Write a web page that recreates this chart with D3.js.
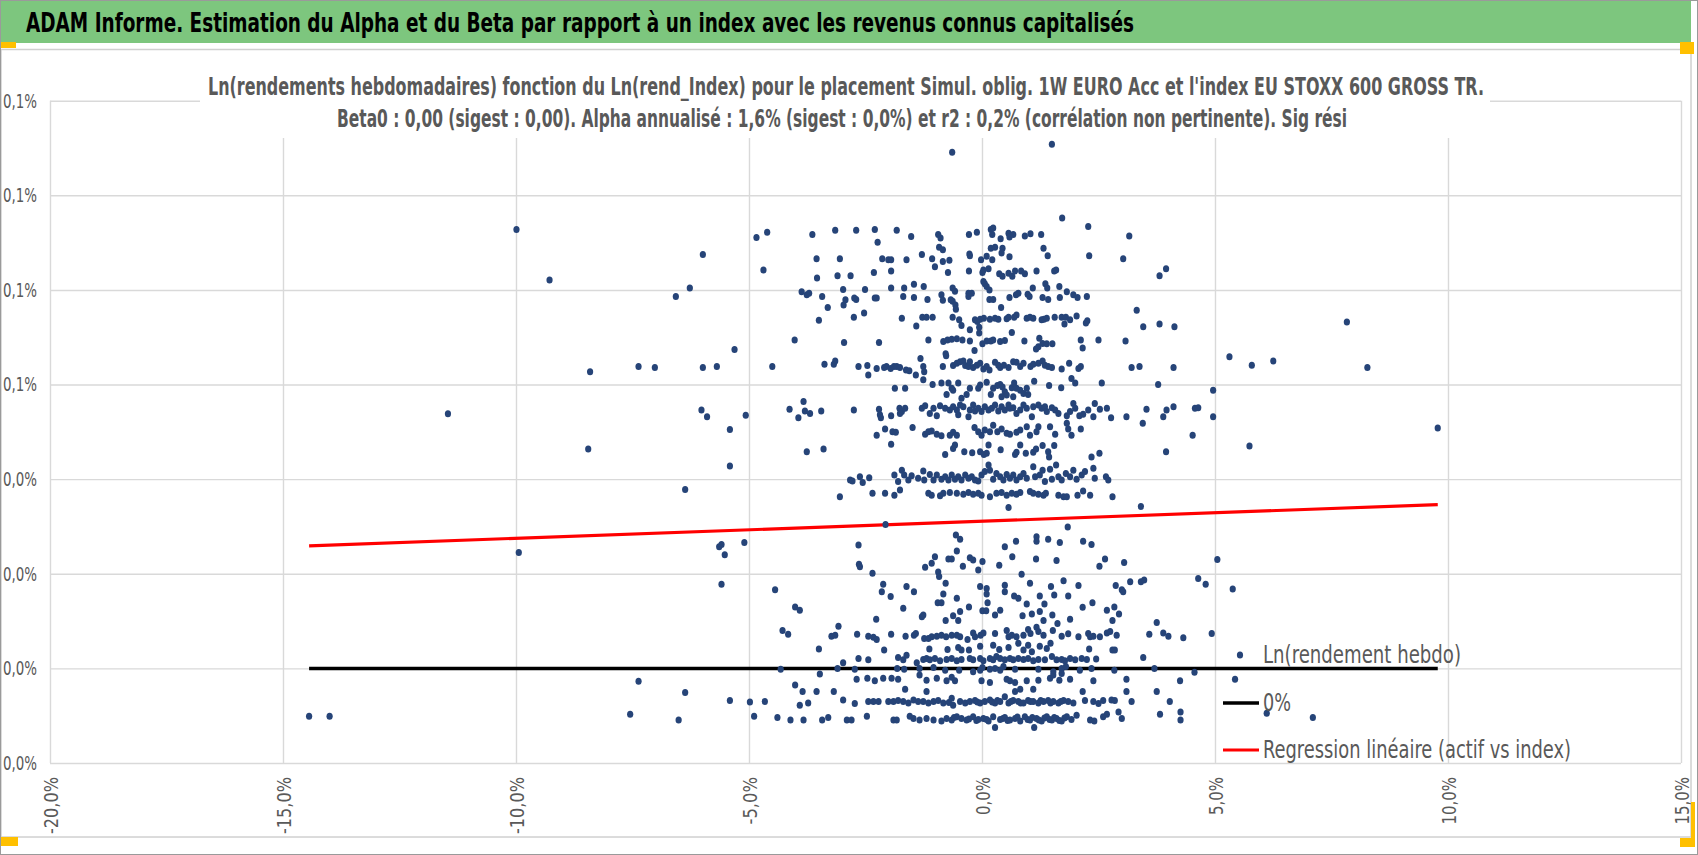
<!DOCTYPE html>
<html>
<head>
<meta charset="utf-8">
<script src="https://cdn.jsdelivr.net/npm/d3@7"></script>
<style>
  body { margin: 0; background: #fff; }
  svg { display: block; }
  text { font-family: "Liberation Sans Narrow", "DejaVu Sans Condensed", sans-serif; }
</style>
</head>
<body>
<svg id="chart" width="1698" height="855"></svg>
<script>
// weekly log returns (%) of the fund vs index (%), grouped by band
var bandTop = [
  [-0.64,0.1091],[1.50,0.1108],[1.72,0.0952],[2.28,0.0934],[3.16,0.0914],
  [-4.61,0.0922],[-3.64,0.0917],[-3.15,0.0926],[-2.70,0.0926],[-2.30,0.0928],[-1.83,0.0926],[-1.52,0.0913],
  [-0.94,0.0917],[-0.89,0.0910],[-0.28,0.0917],[-0.11,0.0922],[0.19,0.0928],[0.24,0.0931],[0.22,0.0917],
  [0.40,0.0908],[0.57,0.0920],[0.59,0.0912],[0.67,0.0917],[0.92,0.0914],[1.04,0.0919],[1.27,0.0917],[-2.24,0.0901],
  [-3.55,0.0866],[-3.05,0.0866],[-2.14,0.0866],[-2.01,0.0864],[-1.95,0.0864],[-1.62,0.0864],[-1.29,0.0875],
  [-1.07,0.0866],[-0.84,0.0860],[-0.70,0.0863],[-0.27,0.0876],[-0.26,0.0872],[-0.02,0.0864],[0.10,0.0871],
  [0.22,0.0864],[0.19,0.0888],[0.28,0.0890],[0.44,0.0888],[0.42,0.0878],[0.59,0.0870],[1.32,0.0888],[1.41,0.0872],
  [2.30,0.0872],[3.03,0.0866],[-0.92,0.0890],[-0.84,0.0885],
  [-4.69,0.0842],[-3.10,0.0830],[-2.82,0.0830],[-3.54,0.0825],[-2.32,0.0837],[-1.95,0.0840],[-1.01,0.0849],
  [-0.73,0.0837],[-0.28,0.0840],[0.01,0.0837],[0.03,0.0842],[0.14,0.0845],[0.37,0.0834],[0.44,0.0829],[0.57,0.0835],
  [0.65,0.0829],[0.71,0.0840],[0.84,0.0840],[0.92,0.0834],[1.17,0.0840],[1.55,0.0840],[1.59,0.0842],[3.81,0.0830],[3.95,0.0845]
];

var bandHigh = [
  [-3.87,0.0796],[-3.76,0.0790],[-3.71,0.0793],[-3.43,0.0786],[-2.98,0.0801],[-2.93,0.0779],[-2.70,0.0780],[-2.74,0.0783],
  [-2.51,0.0801],[-2.30,0.0783],[-2.26,0.0783],[-1.95,0.0804],[-1.69,0.0786],[-1.67,0.0804],[-1.46,0.0812],[-1.46,0.0784],
  [-1.25,0.0807],[-1.17,0.0780],[-0.87,0.0790],[-0.84,0.0778],[-0.63,0.0804],[-0.58,0.0797],[-0.63,0.0776],[-0.67,0.0779],
  [-0.29,0.0793],[-0.29,0.0786],[-0.22,0.0793],[0.03,0.0818],[0.06,0.0813],[0.10,0.0807],[0.16,0.0800],[0.16,0.0780],
  [0.24,0.0780],[0.59,0.0784],[0.73,0.0790],[0.78,0.0793],[0.98,0.0791],[1.02,0.0786],[1.09,0.0804],[1.30,0.0784],
  [1.36,0.0813],[1.40,0.0804],[1.42,0.0780],[1.66,0.0807],[1.67,0.0784],[1.82,0.0796],[1.96,0.0790],[2.05,0.0784],[2.25,0.0786],
  [-3.31,0.0763],[-2.97,0.0768],[-3.50,0.0736],[-2.75,0.0742],[-2.53,0.0751],[-0.57,0.0768],[-0.56,0.0759],[0.41,0.0763],
  [-1.72,0.0740],[-1.41,0.0724],[-1.28,0.0742],[-1.19,0.0742],[-1.06,0.0742],[-0.63,0.0742],[-0.49,0.0737],[-0.44,0.0725],
  [-0.15,0.0737],[-0.10,0.0733],[-0.04,0.0738],[0.04,0.0740],[0.17,0.0738],[0.28,0.0740],[0.35,0.0738],[0.53,0.0739],
  [0.57,0.0742],[0.69,0.0742],[0.74,0.0747],[0.96,0.0740],[1.03,0.0742],[1.10,0.0740],[1.28,0.0737],[1.33,0.0738],
  [1.39,0.0740],[1.56,0.0742],[1.71,0.0742],[1.77,0.0728],[1.80,0.0742],[1.89,0.0737],[2.03,0.0745],[2.23,0.0730],
  [2.26,0.0735],[3.32,0.0757],[3.46,0.0722],[3.81,0.0728],[4.13,0.0722],[-0.06,0.0721],[-0.26,0.0716],
  [-4.02,0.0694],[-2.96,0.0689],[-2.21,0.0689],[-1.15,0.0694],[-0.83,0.0691],[-0.74,0.0694],[-0.65,0.0696],[-0.54,0.0697],
  [-0.42,0.0694],[-0.26,0.0692],[-0.16,0.0672],[-0.06,0.0709],[0.01,0.0686],[0.10,0.0692],[0.19,0.0692],[0.24,0.0694],
  [0.39,0.0691],[0.49,0.0693],[0.64,0.0710],[0.91,0.0692],[1.16,0.0675],[1.21,0.0680],[1.23,0.0698],[1.30,0.0687],
  [1.39,0.0686],[1.51,0.0686],[2.12,0.0694],[2.16,0.0677],[2.50,0.0694],[3.08,0.0692],[-0.78,0.0665]
];

var bandMidHigh = [
  [-4.50,0.0638],[-3.38,0.0643],[-3.18,0.0643],[-3.15,0.0650],[-2.65,0.0638],[-2.46,0.0640],[-2.44,0.0620],[-2.26,0.0634],
  [-2.10,0.0636],[-2.05,0.0638],[-1.96,0.0634],[-1.89,0.0638],[-1.83,0.0638],[-1.76,0.0636],[-1.63,0.0631],[-1.56,0.0629],
  [-1.42,0.0620],[-1.32,0.0655],[-1.26,0.0638],[-1.24,0.0627],[-1.26,0.0610],[-0.84,0.0638],[-0.77,0.0661],[-0.62,0.0640],
  [-0.54,0.0645],[-0.47,0.0648],[-0.40,0.0650],[-0.36,0.0640],[-0.29,0.0638],[-0.26,0.0648],[-0.19,0.0636],[-0.11,0.0641],
  [-0.04,0.0645],[0.03,0.0633],[0.10,0.0638],[0.16,0.0631],[0.28,0.0647],[0.35,0.0641],[0.39,0.0636],[0.47,0.0641],
  [0.57,0.0636],[0.67,0.0648],[0.74,0.0647],[0.82,0.0638],[0.89,0.0645],[1.04,0.0638],[1.10,0.0643],[1.21,0.0645],
  [1.30,0.0650],[1.35,0.0641],[1.42,0.0638],[1.50,0.0636],[1.71,0.0633],[1.87,0.0645],[1.92,0.0613],[2.00,0.0603],
  [2.07,0.0634],[2.12,0.0638],[2.57,0.0603],[3.21,0.0636],[3.38,0.0638],[3.78,0.0600],[4.11,0.0636],
  [-1.87,0.0592],[-1.65,0.0592],[-1.06,0.0600],[-0.87,0.0603],[-0.72,0.0603],[-0.65,0.0592],[-0.62,0.0588],[-0.51,0.0603],
  [-0.76,0.0579],[-0.44,0.0571],[-0.26,0.0592],[-0.08,0.0592],[-0.04,0.0599],[-0.33,0.0579],[0.10,0.0605],[0.19,0.0579],
  [0.24,0.0592],[0.33,0.0598],[0.39,0.0600],[0.44,0.0595],[0.49,0.0585],[0.53,0.0578],[0.64,0.0593],[0.69,0.0603],
  [0.74,0.0592],[0.82,0.0588],[0.89,0.0581],[0.96,0.0592],[0.99,0.0579],[0.67,0.0574],[0.42,0.0574],[1.12,0.0607],
  [1.44,0.0598],[1.70,0.0593]
];

var bandMid = [
  [-4.13,0.0548],[-3.94,0.0530],[-3.83,0.0564],[-3.80,0.0544],[-3.69,0.0539],[-3.45,0.0544],[-2.75,0.0546],[-2.21,0.0548],
  [-2.19,0.0536],[-2.17,0.0530],[-1.95,0.0534],[-1.77,0.0550],[-1.72,0.0543],[-1.65,0.0550],[-1.76,0.0539],[-1.29,0.0550],
  [-1.22,0.0555],[-1.12,0.0539],[-1.04,0.0550],[-0.97,0.0534],[-0.90,0.0555],[-0.79,0.0550],[-0.69,0.0546],[-0.62,0.0553],
  [-0.54,0.0546],[-0.47,0.0557],[-0.51,0.0536],[-0.40,0.0553],[-0.29,0.0532],[-0.26,0.0546],[-0.19,0.0557],[-0.15,0.0544],
  [-0.08,0.0550],[-0.01,0.0543],[0.06,0.0553],[0.14,0.0546],[0.21,0.0550],[0.28,0.0557],[0.35,0.0544],[0.42,0.0553],
  [0.49,0.0546],[0.57,0.0557],[0.60,0.0550],[0.67,0.0551],[0.74,0.0539],[0.82,0.0546],[0.89,0.0557],[0.96,0.0550],
  [1.07,0.0532],[1.10,0.0553],[1.21,0.0557],[1.28,0.0550],[1.35,0.0553],[1.39,0.0543],[1.50,0.0551],[1.57,0.0546],
  [1.64,0.0539],[1.82,0.0534],[1.89,0.0543],[1.96,0.0560],[2.00,0.0550],[2.09,0.0534],[2.17,0.0537],[2.28,0.0546],
  [2.39,0.0532],[2.42,0.0560],[2.53,0.0548],[2.68,0.0550],[2.77,0.0530],[3.10,0.0532],[3.45,0.0518],[3.53,0.0548],
  [3.89,0.0532],[3.96,0.0546],[4.11,0.0553],[4.52,0.0493],[4.57,0.0550],[4.64,0.0551],
  [-2.26,0.0493],[-2.08,0.0506],[-1.92,0.0500],[-1.85,0.0499],[-1.49,0.0509],[-1.22,0.0495],[-1.15,0.0500],[-1.08,0.0502],
  [-0.97,0.0495],[-0.87,0.0492],[-0.69,0.0493],[-0.62,0.0499],[-0.54,0.0493],[-0.16,0.0509],[-0.08,0.0500],[-0.01,0.0493],
  [0.06,0.0504],[0.17,0.0500],[0.24,0.0514],[0.33,0.0500],[0.42,0.0506],[0.53,0.0497],[0.60,0.0495],[0.74,0.0499],
  [0.82,0.0504],[0.96,0.0511],[1.03,0.0493],[1.17,0.0500],[1.21,0.0511],[1.46,0.0511],[1.57,0.0495],[1.82,0.0518],
  [1.85,0.0506],[1.92,0.0493],[2.12,0.0506],
  [-3.76,0.0458],[-3.40,0.0464],[-1.95,0.0474],[-0.79,0.0452],[-0.58,0.0472],[-0.62,0.0465],[-0.38,0.0458],[-0.21,0.0456],
  [-0.04,0.0458],[0.04,0.0452],[0.14,0.0472],[0.10,0.0455],[0.40,0.0462],[0.71,0.0452],[0.74,0.0457],[0.82,0.0472],
  [0.94,0.0455],[1.10,0.0457],[1.16,0.0464],[1.30,0.0471],[1.42,0.0458],[1.44,0.0447],[1.55,0.0471],[2.35,0.0447],
  [2.52,0.0455],[3.95,0.0458]
];

var bandMidLow = [
  [-2.83,0.0398],[-2.78,0.0396],[-2.62,0.0405],[-2.56,0.0393],[-2.42,0.0403],[-1.88,0.0409],[-1.80,0.0395],[-1.72,0.0419],
  [-1.67,0.0409],[-1.58,0.0398],[-1.51,0.0407],[-1.37,0.0402],[-1.26,0.0417],[-1.24,0.0398],[-1.12,0.0410],[-1.04,0.0398],
  [-0.97,0.0409],[-0.87,0.0400],[-0.79,0.0405],[-0.72,0.0398],[-0.65,0.0409],[-0.58,0.0400],[-0.51,0.0405],[-0.44,0.0398],
  [-0.36,0.0409],[-0.29,0.0402],[-0.22,0.0405],[-0.15,0.0398],[-0.08,0.0396],[-0.01,0.0409],[0.06,0.0416],[0.14,0.0430],
  [0.17,0.0419],[0.24,0.0400],[0.31,0.0412],[0.39,0.0405],[0.46,0.0398],[0.53,0.0410],[0.60,0.0402],[0.67,0.0409],
  [0.74,0.0398],[0.82,0.0405],[0.89,0.0412],[0.96,0.0402],[1.10,0.0426],[1.14,0.0405],[1.24,0.0409],[1.30,0.0419],
  [1.35,0.0395],[1.46,0.0421],[1.50,0.0400],[1.59,0.0430],[1.64,0.0405],[1.71,0.0398],[1.80,0.0412],[1.89,0.0405],
  [1.96,0.0419],[2.03,0.0400],[2.14,0.0409],[2.21,0.0416],[2.39,0.0423],[2.42,0.0402],[2.66,0.0405],[2.71,0.0398],
  [-3.05,0.0363],[-2.35,0.0370],[-2.08,0.0370],[-1.88,0.0366],[-1.76,0.0377],[-1.15,0.0370],[-1.08,0.0366],[-0.90,0.0365],
  [-0.83,0.0370],[-0.69,0.0372],[-0.54,0.0370],[-0.40,0.0368],[-0.29,0.0372],[-0.19,0.0368],[-0.08,0.0370],[-0.01,0.0366],
  [0.17,0.0363],[0.31,0.0370],[0.42,0.0372],[0.53,0.0366],[0.64,0.0370],[0.74,0.0368],[0.82,0.0372],[1.03,0.0374],
  [1.10,0.0370],[1.21,0.0368],[1.32,0.0366],[1.37,0.0370],[1.64,0.0366],[1.75,0.0363],[1.82,0.0363],[2.05,0.0366],
  [2.17,0.0375],[2.32,0.0366],[2.80,0.0363],[0.57,0.0340],[3.41,0.0342]
];

var bandLow = [
  [-2.07,0.0304],[1.84,0.0299],[-0.56,0.0282],[-0.47,0.0273],[1.17,0.0278],[1.17,0.0269],[1.42,0.0273],[1.67,0.0266],
  [2.17,0.0269],[2.35,0.0262],[0.73,0.0269],[0.49,0.0257],[-2.65,0.0261],[-2.64,0.0220],[-2.62,0.0215],[-2.35,0.0201],
  [-1.22,0.0214],[-1.08,0.0222],[-1.01,0.0236],[-0.94,0.0204],[-0.92,0.0194],[-0.72,0.0231],[-0.65,0.0231],[-0.54,0.0248],
  [-0.41,0.0216],[-0.26,0.0234],[-0.19,0.0229],[-0.08,0.0208],[0.01,0.0226],[0.37,0.0218],[0.65,0.0236],[0.85,0.0199],
  [1.16,0.0231],[1.60,0.0228],[2.52,0.0216],[2.64,0.0231],[3.05,0.0224],
  [-4.44,0.0166],[-2.12,0.0178],[-1.62,0.0173],[-0.78,0.0180],[-0.04,0.0173],[0.10,0.0169],[0.49,0.0176],[1.03,0.0180],
  [1.48,0.0173],[1.75,0.0185],[2.07,0.0175],[2.87,0.0175],[3.00,0.0166],[3.18,0.0183],[3.41,0.0183],[3.48,0.0187],[4.64,0.0190],
  [-2.15,0.0162],[-1.96,0.0152],[-1.46,0.0162],[-0.83,0.0157],[-0.54,0.0148],[0.10,0.0157],[0.12,0.0139],[0.49,0.0162],
  [0.69,0.0153],[0.78,0.0148],[0.96,0.0136],[1.24,0.0153],[1.34,0.0136],[1.55,0.0155],[1.85,0.0153],[2.16,0.0129],
  [2.37,0.0139],[2.68,0.0123],[2.84,0.0130],[3.03,0.0162],[-4.01,0.0130],[-3.91,0.0123],[-1.69,0.0127],[-0.95,0.0139],[-0.87,0.0139],
  [-1.29,0.0109],[-1.26,0.0113],[-0.62,0.0111],[-0.78,0.0101],[-0.51,0.0101],[-0.47,0.0120],[-0.28,0.0130],[0.01,0.0122],
  [0.09,0.0122],[0.28,0.0113],[0.39,0.0123],[0.87,0.0111],[1.07,0.0115],[1.24,0.0120],[1.32,0.0101],[1.51,0.0113],
  [1.62,0.0095],[1.89,0.0104],[2.80,0.0101],[2.94,0.0115],[3.75,0.0097],[-3.08,0.0089],[-2.27,0.0104]
];

var bandZero = [
  [-4.28,0.0080],[-4.16,0.0072],[-3.23,0.0068],[-3.15,0.0070],[-2.68,0.0072],[-2.44,0.0068],[-2.33,0.0066],[-2.26,0.0061],
  [-1.95,0.0072],[-1.64,0.0068],[-1.46,0.0070],[-1.42,0.0074],[-1.24,0.0063],[-1.15,0.0063],[-1.08,0.0067],[-0.97,0.0068],
  [-0.87,0.0070],[-0.77,0.0067],[-0.65,0.0070],[-0.54,0.0070],[-0.47,0.0067],[-0.31,0.0061],[-0.19,0.0075],[-0.15,0.0067],
  [-0.03,0.0070],[0.03,0.0075],[0.28,0.0074],[0.53,0.0080],[0.57,0.0067],[0.64,0.0070],[0.74,0.0067],[0.89,0.0070],
  [0.99,0.0082],[1.04,0.0074],[1.17,0.0087],[1.21,0.0078],[1.32,0.0070],[1.52,0.0080],[1.71,0.0068],[1.85,0.0073],
  [2.07,0.0067],[2.28,0.0074],[2.32,0.0067],[2.39,0.0068],[2.53,0.0067],[2.68,0.0075],[2.75,0.0078],[2.89,0.0070],
  [3.59,0.0072],[3.89,0.0075],[4.00,0.0068],[4.32,0.0065],
  [-3.50,0.0041],[-2.10,0.0039],[-1.13,0.0041],[-0.74,0.0040],[-0.51,0.0044],[-0.44,0.0039],[-0.28,0.0039],[-0.04,0.0047],
  [0.24,0.0049],[0.37,0.0040],[0.57,0.0044],[0.78,0.0053],[0.89,0.0039],[0.99,0.0049],[1.07,0.0035],[1.24,0.0047],
  [1.39,0.0042],[1.47,0.0053],[2.30,0.0041],[2.80,0.0039],[2.85,0.0039],[3.46,0.0023],
  [-2.98,0.0012],[-2.65,0.0021],[-2.44,0.0018],[-1.80,0.0023],[-1.69,0.0018],[-1.62,0.0028],[-1.40,0.0012],[-1.26,0.0019],
  [-1.19,0.0021],[-1.12,0.0018],[-1.01,0.0021],[-0.90,0.0016],[-0.76,0.0019],[-0.65,0.0021],[-0.54,0.0016],[-0.44,0.0019],
  [-0.26,0.0021],[-0.19,0.0018],[-0.04,0.0021],[0.03,0.0016],[0.17,0.0021],[0.24,0.0018],[0.31,0.0025],[0.39,0.0021],
  [0.49,0.0018],[0.60,0.0021],[0.67,0.0018],[0.78,0.0021],[0.89,0.0019],[0.99,0.0021],[1.10,0.0016],[1.21,0.0019],
  [1.35,0.0018],[1.50,0.0025],[1.60,0.0018],[1.71,0.0019],[1.78,0.0016],[1.89,0.0021],[2.00,0.0018],[2.14,0.0021],
  [2.25,0.0019],[2.45,0.0020],
  [-4.32,-0.0002],[-3.48,-0.0012],[-3.10,0.0000],[-2.73,-0.0002],[-1.82,0.0000],[-1.67,-0.0002],[-1.34,0.0000],[-1.04,0.0002],
  [-0.79,-0.0004],[-0.49,-0.0004],[-0.19,-0.0007],[-0.04,-0.0004],[0.01,0.0002],[0.17,-0.0002],[0.28,0.0000],[0.39,-0.0004],
  [0.46,0.0004],[0.71,-0.0002],[1.21,-0.0002],[1.53,-0.0007],[1.71,0.0000],[1.80,0.0004],[2.10,-0.0004],[2.35,0.0000],
  [2.84,-0.0004],[3.70,0.0000],[4.56,-0.0008]
];

var bandBottom = [
  [-2.69,-0.0023],[-2.46,-0.0021],[-2.30,-0.0026],[-2.12,-0.0021],[-1.94,-0.0021],[-1.80,-0.0023],[-1.34,-0.0014],[-1.19,-0.0025],
  [-0.97,-0.0021],[-0.76,-0.0026],[-0.65,-0.0019],[-0.58,-0.0026],[-0.01,-0.0026],[0.17,-0.0030],[0.53,-0.0023],[0.60,-0.0026],
  [0.71,-0.0030],[0.96,-0.0026],[1.21,-0.0025],[1.46,-0.0021],[1.53,-0.0014],[1.66,-0.0025],[1.71,-0.0011],[1.89,-0.0023],
  [2.39,-0.0026],[3.10,-0.0023],[4.25,-0.0026],
  [-4.01,-0.0035],[-3.85,-0.0049],[-3.55,-0.0049],[-3.18,-0.0049],[-1.65,-0.0044],[-1.19,-0.0049],[0.71,-0.0049],[0.82,-0.0044],
  [1.10,-0.0044],[2.16,-0.0049],[3.10,-0.0049],[3.75,-0.0049],
  [-4.66,-0.0070],[-3.91,-0.0078],[-3.73,-0.0073],[-2.98,-0.0067],[-2.73,-0.0074],[-2.44,-0.0070],[-2.33,-0.0070],[-2.22,-0.0070],
  [-2.01,-0.0070],[-1.90,-0.0070],[-1.80,-0.0068],[-1.69,-0.0070],[-1.58,-0.0073],[-1.47,-0.0067],[-1.37,-0.0070],[-1.26,-0.0070],
  [-1.15,-0.0073],[-1.04,-0.0070],[-0.94,-0.0068],[-0.83,-0.0073],[-0.71,-0.0072],[-0.65,-0.0063],[-0.62,-0.0078],[-0.47,-0.0070],
  [-0.36,-0.0073],[-0.26,-0.0070],[-0.15,-0.0068],[-0.10,-0.0071],[-0.04,-0.0073],[0.06,-0.0070],[0.17,-0.0067],[0.22,-0.0071],
  [0.28,-0.0073],[0.33,-0.0068],[0.39,-0.0070],[0.49,-0.0060],[0.57,-0.0073],[0.62,-0.0070],[0.67,-0.0068],[0.78,-0.0070],
  [0.83,-0.0073],[0.89,-0.0073],[0.99,-0.0068],[1.04,-0.0070],[1.10,-0.0070],[1.21,-0.0073],[1.26,-0.0068],[1.32,-0.0070],
  [1.42,-0.0068],[1.47,-0.0073],[1.53,-0.0070],[1.64,-0.0073],[1.69,-0.0070],[1.75,-0.0068],[1.85,-0.0070],[1.96,-0.0073],
  [2.21,-0.0068],[2.39,-0.0070],[2.50,-0.0074],[2.60,-0.0068],[2.78,-0.0067],[2.85,-0.0068],[3.21,-0.0070],[4.03,-0.0070],
  [-4.39,-0.0104],[-4.11,-0.0109],[-3.83,-0.0109],[-3.43,-0.0109],[-3.30,-0.0104],[-2.90,-0.0109],[-2.80,-0.0109],[-2.47,-0.0101],
  [-1.90,-0.0109],[-1.83,-0.0109],[-1.55,-0.0101],[-1.47,-0.0106],[-1.34,-0.0109],[-1.19,-0.0106],[-1.04,-0.0109],[-0.87,-0.0111],
  [-0.76,-0.0106],[-0.65,-0.0109],[-0.60,-0.0104],[-0.54,-0.0102],[-0.44,-0.0106],[-0.33,-0.0109],[-0.28,-0.0107],[-0.19,-0.0102],
  [-0.12,-0.0110],[-0.08,-0.0108],[0.03,-0.0106],[0.10,-0.0108],[0.14,-0.0111],[0.24,-0.0102],[0.28,-0.0125],[0.39,-0.0108],
  [0.45,-0.0106],[0.49,-0.0104],[0.55,-0.0110],[0.60,-0.0109],[0.71,-0.0106],[0.76,-0.0103],[0.82,-0.0111],[0.92,-0.0102],
  [0.98,-0.0108],[1.03,-0.0109],[1.08,-0.0104],[1.12,-0.0125],[1.17,-0.0106],[1.22,-0.0109],[1.28,-0.0111],[1.34,-0.0105],
  [1.39,-0.0102],[1.45,-0.0108],[1.50,-0.0109],[1.55,-0.0104],[1.60,-0.0106],[1.66,-0.0110],[1.71,-0.0111],[1.77,-0.0105],
  [1.82,-0.0102],[1.92,-0.0108],[2.03,-0.0099],[2.32,-0.0109],[2.41,-0.0111],[2.60,-0.0102],[2.68,-0.0097],[2.93,-0.0092],
  [3.00,-0.0106],[3.82,-0.0097],[4.26,-0.0109],[4.26,-0.0092]
];

var outerLeft = [
  [-9.99,0.0928],[-9.28,0.0821],[-5.99,0.0875],[-4.84,0.0911],[-6.27,0.0804],[-6.57,0.0786],[-5.31,0.0674],[-8.41,0.0627],
  [-7.37,0.0638],[-7.02,0.0636],[-5.99,0.0636],[-5.69,0.0638],[-11.46,0.0538],[-6.02,0.0546],[-5.90,0.0532],[-5.07,0.0535],
  [-5.41,0.0505],[-8.45,0.0464],[-5.41,0.0428],[-6.37,0.0378],[-9.94,0.0245],[-5.64,0.0257],[-5.59,0.0262],[-5.52,0.0240],
  [-5.10,0.0266],[-5.59,0.0178],[-7.37,-0.0027],[-6.37,-0.0051],[-5.41,-0.0068],[-4.98,-0.0071],[-14.44,-0.0101],
  [-14.00,-0.0101],[-7.55,-0.0097],[-6.51,-0.0109],[-4.89,-0.0101]
];

var outerRight = [
  [7.83,0.0732],[5.31,0.0659],[5.79,0.0641],[6.25,0.0650],[8.27,0.0636],[4.96,0.0588],[4.96,0.0532],[5.74,0.0470],
  [9.78,0.0508],[5.05,0.0230],[4.80,0.0178],[5.38,0.0168],[4.93,0.0074],[5.43,-0.0023],[6.11,-0.0095],[7.10,-0.0104]
];

// regression (y in %, x in %)
var regIntercept = 0.0311;
var regSlope = 0.00036;

var xTicks = [-20, -15, -10, -5, 0, 5, 10, 15];
var xTickLabels = ["-20,0%", "-15,0%", "-10,0%", "-5,0%", "0,0%", "5,0%", "10,0%", "15,0%"];
var yTicks = [-0.02, 0, 0.02, 0.04, 0.06, 0.08, 0.10, 0.12];
var yTickLabels = ["0,0%", "0,0%", "0,0%", "0,0%", "0,1%", "0,1%", "0,1%", "0,1%"];

var legendLabels = ["Ln(rendement hebdo)", "0%", "Regression linéaire (actif vs index)"];
var legendWidths = [198, 28, 308];

var pageTitle = "ADAM Informe. Estimation du Alpha et du Beta par rapport à un index avec les revenus connus capitalisés";
var subTitle1 = "Ln(rendements hebdomadaires) fonction du Ln(rend_Index) pour le placement Simul. oblig. 1W EURO Acc et l'index EU STOXX 600 GROSS TR.";
var subTitle2 = "Beta0 : 0,00 (sigest : 0,00). Alpha annualisé : 1,6% (sigest : 0,0%) et r2 : 0,2% (corrélation non pertinente). Sig rési";

var points = [].concat(bandTop, bandHigh, bandMidHigh, bandMid, bandMidLow, bandLow, bandZero, bandBottom, outerLeft, outerRight);

var svg = d3.select("#chart");
var W = 1698, H = 855;
var plotLeft = 50, plotRight = 1681, plotTop = 100.7, plotBottom = 763;
var fontStack = "\"Liberation Sans Narrow\", \"DejaVu Sans Condensed\", sans-serif";

svg.append("rect").attr("width", W).attr("height", H).attr("fill", "#fff");

// title band
svg.append("rect").attr("x", 1).attr("y", 1).attr("width", 1690).attr("height", 42).attr("fill", "#7dc67e");
svg.append("text").attr("x", 26).attr("y", 32)
  .attr("font-size", 27).attr("font-weight", "bold").attr("fill", "#000")
  .attr("textLength", 1108).attr("lengthAdjust", "spacingAndGlyphs")
  .text(pageTitle);

// chart area frame
svg.append("rect").attr("x", 1).attr("y", 49.5).attr("width", 1690).attr("height", 787.5)
  .attr("fill", "none").attr("stroke", "#d0d0d0").attr("stroke-width", 1.5);
svg.append("rect").attr("x", 0.5).attr("y", 0.5).attr("width", W - 1).attr("height", H - 1)
  .attr("fill", "none").attr("stroke", "#9a9a9a").attr("stroke-width", 1);

var x = d3.scaleLinear().domain([-20, 15]).range([plotLeft, plotRight]);
var y = d3.scaleLinear().domain([-0.02, 0.12]).range([plotBottom, plotTop]);

// gridlines + labels
var gx = svg.append("g").attr("transform", "translate(0," + plotBottom + ")")
  .call(d3.axisBottom(x).tickValues(xTicks).tickSize(-(plotBottom - plotTop))
    .tickFormat(function(d, i) { return xTickLabels[i]; }));
gx.select(".domain").remove();
gx.selectAll("line").attr("stroke", "#d9d9d9").attr("stroke-width", 1.4);
gx.selectAll("text")
  .attr("transform", "rotate(-90)")
  .attr("text-anchor", "end")
  .attr("x", -14).attr("y", 7).attr("dy", 0)
  .attr("font-size", 20).attr("fill", "#595959")
  .attr("textLength", function(d, i) { return xTickLabels[i].length * 9.5; })
  .attr("lengthAdjust", "spacingAndGlyphs")
  .style("font-family", fontStack);

var gy = svg.append("g").attr("transform", "translate(" + plotLeft + ",0)")
  .call(d3.axisLeft(y).tickValues(yTicks).tickSize(-(plotRight - plotLeft)).tickPadding(13)
    .tickFormat(function(d, i) { return yTickLabels[i]; }));
gy.select(".domain").remove();
gy.selectAll("line").attr("stroke", "#d9d9d9").attr("stroke-width", 1.4);
gy.selectAll("text").attr("font-size", 20).attr("fill", "#595959")
  .attr("textLength", 34).attr("lengthAdjust", "spacingAndGlyphs")
  .style("font-family", fontStack);

// subtitle box hides the grid behind it
svg.append("rect").attr("x", 200).attr("y", 62).attr("width", 1290).attr("height", 76).attr("fill", "#fff");
svg.append("text").attr("x", 846).attr("y", 95).attr("text-anchor", "middle")
  .attr("font-size", 24).attr("font-weight", "bold").attr("fill", "#595959")
  .attr("textLength", 1276).attr("lengthAdjust", "spacingAndGlyphs")
  .text(subTitle1);
svg.append("text").attr("x", 842).attr("y", 127).attr("text-anchor", "middle")
  .attr("font-size", 24).attr("font-weight", "bold").attr("fill", "#595959")
  .attr("textLength", 1010).attr("lengthAdjust", "spacingAndGlyphs")
  .text(subTitle2);

// 0% line and regression over the index range
var xr = d3.extent(points, function(d) { return d[0]; });
var line = d3.line().x(function(d) { return x(d[0]); }).y(function(d) { return y(d[1]); });

svg.append("path")
  .attr("d", line(xr.map(function(v) { return [v, 0]; })))
  .attr("stroke", "#000").attr("stroke-width", 3.5).attr("fill", "none");
svg.append("path")
  .attr("d", line(xr.map(function(v) { return [v, regIntercept + regSlope * v]; })))
  .attr("stroke", "#ff0000").attr("stroke-width", 3.2).attr("fill", "none");

// scatter
svg.append("g").selectAll("ellipse").data(points).enter().append("ellipse")
  .attr("cx", function(d) { return x(d[0]); })
  .attr("cy", function(d) { return y(d[1]); })
  .attr("rx", 3.1).attr("ry", 3.5)
  .attr("fill", "#264478");

// legend
var lg = svg.append("g").attr("font-size", 24).attr("fill", "#595959");
lg.append("ellipse").attr("cx", 1240).attr("cy", 655).attr("rx", 3.1).attr("ry", 3.5).attr("fill", "#264478");
lg.append("line").attr("x1", 1223).attr("x2", 1259).attr("y1", 703).attr("y2", 703)
  .attr("stroke", "#000").attr("stroke-width", 3.5);
lg.append("line").attr("x1", 1223).attr("x2", 1259).attr("y1", 750).attr("y2", 750)
  .attr("stroke", "#ff0000").attr("stroke-width", 3.2);
lg.selectAll("text").data(legendLabels).enter().append("text")
  .attr("x", 1263)
  .attr("y", function(d, i) { return 655 + i * 47.5; })
  .attr("dy", "0.35em")
  .attr("textLength", function(d, i) { return legendWidths[i]; })
  .attr("lengthAdjust", "spacingAndGlyphs")
  .text(function(d) { return d; });

// selection handles
var handles = [[1, 42, 15, 6], [1680, 42, 14, 12], [1, 837, 17, 9], [1691, 802, 4, 36], [1680, 838, 15, 9]];
svg.selectAll("rect.handle").data(handles).enter().append("rect")
  .attr("class", "handle")
  .attr("x", function(d) { return d[0]; }).attr("y", function(d) { return d[1]; })
  .attr("width", function(d) { return d[2]; }).attr("height", function(d) { return d[3]; })
  .attr("fill", "#ffc000");
</script>
</body>
</html>
